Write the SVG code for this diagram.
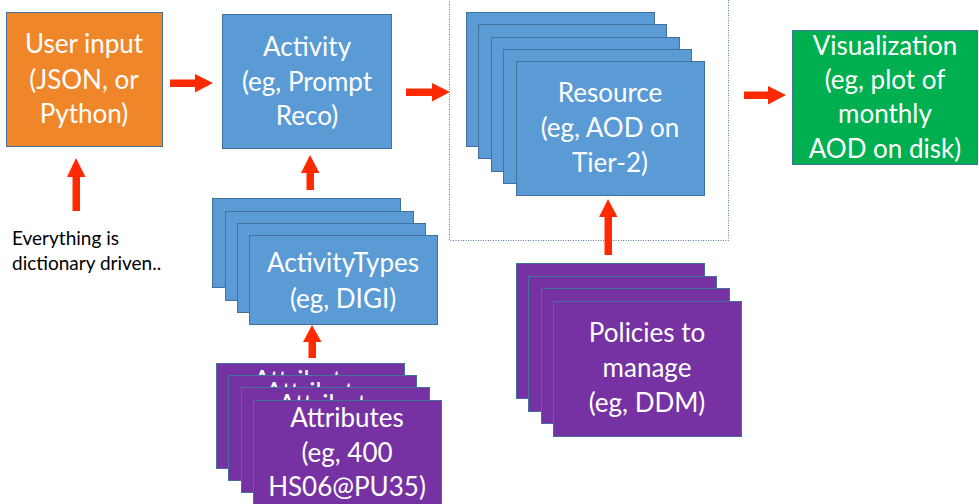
<svg xmlns="http://www.w3.org/2000/svg" width="979" height="504" viewBox="0 0 979 504">
<style>
.t{font-family:Lato,"Open Sans",sans-serif;font-size:26px;fill:#ffffff;text-anchor:middle}
.blue{fill:#5B9BD5;stroke:#41719C;stroke-width:1}
.purple{fill:#7632A2;stroke:#41719C;stroke-width:1}
.orange{fill:#F0862A;stroke:#41719C;stroke-width:1}
.green{fill:#00B050;stroke:#41719C;stroke-width:1}
.arr{fill:#FF2A00}
.note{font-family:Lato,"Open Sans",sans-serif;font-size:19px;fill:#000000}
</style>
<defs>
<clipPath id="c1"><rect x="216" y="363" width="189" height="12.5"/></clipPath>
<clipPath id="c2"><rect x="228" y="375" width="189" height="12.5"/></clipPath>
<clipPath id="c3"><rect x="241" y="387" width="189" height="13.5"/></clipPath>
</defs>
<rect width="979" height="504" fill="#ffffff"/>
<rect id="resource-frame" x="449.5" y="-3.5" width="279" height="244" fill="none" stroke="#4F79A8" stroke-width="1" stroke-dasharray="1,1.5"/>

<g id="user-input">
<rect class="orange" x="6.5" y="12.5" width="156" height="134"/>
<text class="t" x="84" y="53">User input</text>
<text class="t" x="84" y="89">(JSON, or</text>
<text class="t" x="84" y="123">Python)</text>
</g>

<g id="activity">
<rect class="blue" x="222.5" y="14.5" width="169" height="134"/>
<text class="t" x="307" y="56">Activity</text>
<text class="t" x="307" y="91">(eg, Prompt</text>
<text class="t" x="307" y="125">Reco)</text>
</g>

<g id="resource">
<rect class="blue" x="466.5" y="12.5" width="188" height="134"/>
<rect class="blue" x="478.5" y="24.5" width="188" height="134"/>
<rect class="blue" x="491.5" y="37.5" width="188" height="134"/>
<rect class="blue" x="503.5" y="49.5" width="188" height="134"/>
<rect class="blue" x="516.5" y="61.5" width="188" height="134"/>
<text class="t" x="610" y="102">Resource</text>
<text class="t" x="610" y="137">(eg, AOD on</text>
<text class="t" x="610" y="172">Tier-2)</text>
</g>

<g id="visualization">
<rect class="green" x="792.5" y="30.5" width="185" height="134"/>
<text class="t" x="885" y="55">Visualization</text>
<text class="t" x="885" y="89">(eg, plot of</text>
<text class="t" x="885" y="123">monthly</text>
<text class="t" x="885" y="158">AOD on disk)</text>
</g>

<g id="activity-types">
<rect class="blue" x="212.5" y="198.5" width="188" height="89"/>
<rect class="blue" x="225.5" y="211.5" width="188" height="89"/>
<rect class="blue" x="237.5" y="223.5" width="188" height="89"/>
<rect class="blue" x="249.5" y="235.5" width="188" height="89"/>
<text class="t" x="343" y="272">ActivityTypes</text>
<text class="t" x="343" y="308">(eg, DIGI)</text>
</g>

<g id="attributes">
<rect class="purple" x="216.5" y="363.5" width="188" height="105"/>
<text class="t" x="310" y="390" clip-path="url(#c1)">Attributes</text>
<rect class="purple" x="228.5" y="375.5" width="188" height="105"/>
<text class="t" x="322" y="402" clip-path="url(#c2)">Attributes</text>
<rect class="purple" x="241.5" y="387.5" width="188" height="105"/>
<text class="t" x="335" y="414" clip-path="url(#c3)">Attributes</text>
<rect class="purple" x="253.5" y="400.5" width="188" height="105"/>
<text class="t" x="347" y="427">Attributes</text>
<text class="t" x="347" y="462">(eg, 400</text>
<text class="t" x="347" y="496">HS06@PU35)</text>
</g>

<g id="policies">
<rect class="purple" x="516.5" y="263.5" width="188" height="135"/>
<rect class="purple" x="528.5" y="276.5" width="188" height="135"/>
<rect class="purple" x="541.5" y="288.5" width="188" height="135"/>
<rect class="purple" x="553.5" y="301.5" width="188" height="135"/>
<text class="t" x="647" y="342">Policies to</text>
<text class="t" x="647" y="377">manage</text>
<text class="t" x="647" y="412">(eg, DDM)</text>
</g>

<g id="note">
<text class="note" x="12" y="245">Everything is</text>
<text class="note" x="12" y="270">dictionary driven..</text>
</g>

<g id="connectors">
<polygon class="arr" points="170,79.5 195,79.5 195,74 213,83 195,92.5 195,87 170,87"/>
<polygon class="arr" points="406,88.5 432,88.5 432,83 450,92 432,101.5 432,96 406,96"/>
<polygon class="arr" points="744,91.5 768,91.5 768,86 786,95 768,104.5 768,99 744,99"/>
<polygon class="arr" points="72.5,211 72.5,177 67,177 76,158 85.5,177 80,177 80,211"/>
<polygon class="arr" points="306.5,190 306.5,173 301,173 310,155 319.5,173 314,173 314,190"/>
<polygon class="arr" points="308.5,358 308.5,342 303,342 312,325 321.5,342 316,342 316,358"/>
<polygon class="arr" points="604.5,255 604.5,217 599,217 608,199 617.5,217 612,217 612,255"/>
</g>
</svg>
